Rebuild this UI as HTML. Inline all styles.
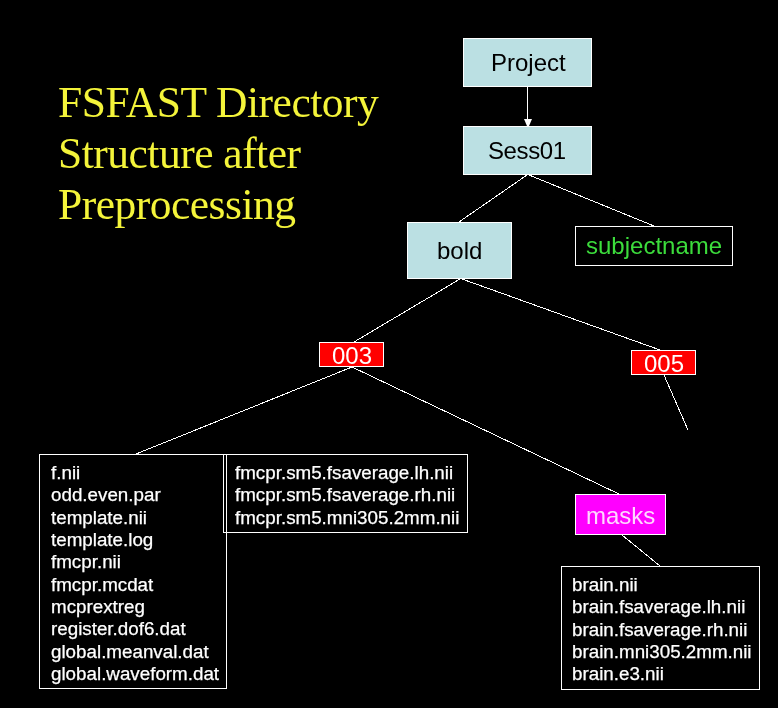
<!DOCTYPE html>
<html>
<head>
<meta charset="utf-8">
<style>
html,body{margin:0;padding:0;background:#000;width:778px;height:708px;overflow:hidden;}
body{position:relative;font-family:"Liberation Sans",sans-serif;-webkit-font-smoothing:antialiased;}
.t,.files,.title{will-change:transform;}
.b{position:absolute;box-sizing:border-box;border:1px solid #fff;}
.t{position:absolute;white-space:nowrap;line-height:1;}
.title{position:absolute;left:58px;letter-spacing:-0.5px;top:77px;font-family:"Liberation Serif",serif;font-size:43.5px;line-height:51px;color:#f4f43a;white-space:nowrap;}
.cy{background:#bbe0e3;}
.files{position:absolute;white-space:pre;color:#fff;font-size:18.8px;line-height:22.33px;-webkit-text-stroke:0.25px #fff;}
svg{position:absolute;left:0;top:0;}
</style>
</head>
<body>
<div class="title">FSFAST Directory<br>Structure after<br>Preprocessing</div>

<svg width="778" height="708" viewBox="0 0 778 708">
<g stroke="#fff" stroke-width="1" fill="none" shape-rendering="crispEdges">
<line x1="527.5" y1="87" x2="527.5" y2="120"/>
<line x1="527" y1="175" x2="459" y2="222"/>
<line x1="529" y1="175" x2="654" y2="226"/>
<line x1="460" y1="279" x2="354" y2="342"/>
<line x1="462" y1="279" x2="660" y2="350"/>
<line x1="664" y1="375" x2="688" y2="430"/>
<line x1="352" y1="367" x2="136" y2="454"/>
<line x1="352" y1="367" x2="619" y2="494"/>
<line x1="622" y1="535" x2="660" y2="566"/>
</g>
<path d="M524 119 H532 L529 126 H527 Z" fill="#fff"/>
</svg>

<div class="b cy" style="left:463px;top:38px;width:129px;height:49px;"></div>
<div class="t" style="left:491px;top:51px;font-size:24px;color:#000;">Project</div>

<div class="b cy" style="left:463px;top:126px;width:129px;height:49px;"></div>
<div class="t" style="left:488px;top:139px;letter-spacing:-0.4px;font-size:24px;color:#000;">Sess01</div>

<div class="b cy" style="left:407px;top:222px;width:105px;height:57px;"></div>
<div class="t" style="left:437px;top:239px;font-size:24px;color:#000;">bold</div>

<div class="b" style="left:575px;top:226px;width:158px;height:40px;"></div>
<div class="t" style="left:586px;top:234px;font-size:24px;color:#3cdc3c;">subjectname</div>

<div class="b" style="left:319px;top:342px;width:65px;height:25px;background:#ff0000;"></div>
<div class="t" style="left:332px;top:344px;font-size:24px;color:#fff;">003</div>

<div class="b" style="left:631px;top:350px;width:65px;height:25px;background:#ff0000;"></div>
<div class="t" style="left:644px;top:352px;font-size:24px;color:#fff;">005</div>

<div class="b" style="left:39px;top:454px;width:188px;height:235px;"></div>
<div class="files" style="left:50.5px;top:461.5px;">f.nii
odd.even.par
template.nii
template.log
fmcpr.nii
fmcpr.mcdat
mcprextreg
register.dof6.dat
global.meanval.dat
global.waveform.dat</div>

<div class="b" style="left:223px;top:454px;width:245px;height:79px;"></div>
<div class="files" style="left:234.5px;top:461.5px;">fmcpr.sm5.fsaverage.lh.nii
fmcpr.sm5.fsaverage.rh.nii
fmcpr.sm5.mni305.2mm.nii</div>

<div class="b" style="left:575px;top:494px;width:91px;height:41px;background:#ff00ff;"></div>
<div class="t" style="left:586px;top:504px;font-size:24px;color:#ffd8ff;">masks</div>

<div class="b" style="left:561px;top:566px;width:199px;height:124px;"></div>
<div class="files" style="left:571.5px;top:573.5px;">brain.nii
brain.fsaverage.lh.nii
brain.fsaverage.rh.nii
brain.mni305.2mm.nii
brain.e3.nii</div>

</body>
</html>
